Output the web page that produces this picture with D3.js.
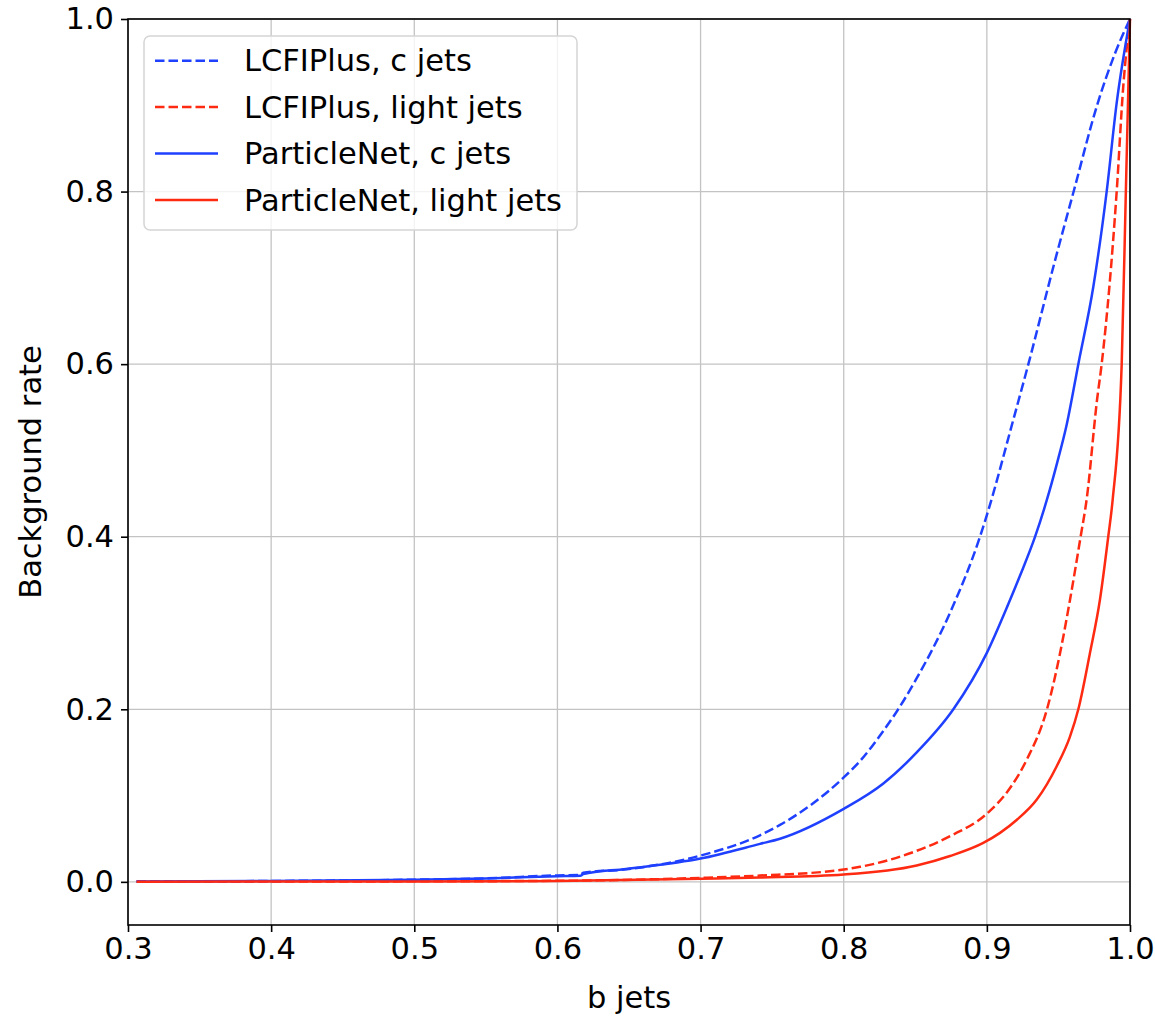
<!DOCTYPE html>
<html>
<head>
<meta charset="utf-8">
<script src="https://cdn.jsdelivr.net/npm/d3@7"></script>
<style>
  body { margin: 0; background: #fff; }
  svg { display: block; font-family: "DejaVu Sans", sans-serif; }
</style>
</head>
<body>
<svg id="chart" width="1155" height="1022"></svg>
<script>
// b-jet efficiency vs background rate
const lcfiCX = [0.306, 0.4, 0.5, 0.55, 0.6, 0.616, 0.618, 0.648, 0.7, 0.7415, 0.7555, 0.8, 0.8114, 0.8277, 0.8365, 0.851, 0.8743, 0.8952, 0.9, 0.9185, 0.929, 0.9476, 0.9611, 0.977, 0.9895, 1.0];
const lcfiCY = [0.0005, 0.001, 0.0025, 0.004, 0.0075, 0.008, 0.0105, 0.0145, 0.0305, 0.054, 0.066, 0.121, 0.14, 0.175, 0.196, 0.236, 0.312, 0.4, 0.425, 0.5357, 0.6, 0.72, 0.803, 0.9, 0.96, 1.0];

const lcfiLX = [0.306, 0.5, 0.6, 0.7, 0.7415, 0.8, 0.8114, 0.851, 0.8743, 0.9, 0.9163, 0.928, 0.942, 0.9535, 0.9581, 0.9655, 0.9697, 0.977, 0.9802, 0.9907, 0.9953, 1.0];
const lcfiLY = [0.0003, 0.0006, 0.0012, 0.0046, 0.0073, 0.0143, 0.0174, 0.036, 0.053, 0.079, 0.109, 0.142, 0.2, 0.285, 0.327, 0.4, 0.443, 0.559, 0.6, 0.8, 0.922, 1.0];

const pnCX = [0.306, 0.4, 0.5, 0.55, 0.6, 0.616, 0.618, 0.648, 0.7, 0.7415, 0.7555, 0.8, 0.8277, 0.851, 0.8766, 0.9, 0.915, 0.9232, 0.9337, 0.9418, 0.949, 0.9558, 0.9639, 0.9744, 0.9837, 0.9907, 1.0];
const pnCY = [0.0005, 0.001, 0.0025, 0.004, 0.0065, 0.007, 0.009, 0.015, 0.027, 0.044, 0.05, 0.0846, 0.114, 0.15, 0.2, 0.2654, 0.322, 0.355, 0.4, 0.442, 0.485, 0.53, 0.6, 0.69, 0.8, 0.9027, 1.0];

const pnLX = [0.306, 0.5, 0.6, 0.7, 0.7415, 0.8, 0.851, 0.8743, 0.8975, 0.9092, 0.921, 0.9349, 0.9488, 0.958, 0.9639, 0.972, 0.979, 0.9848, 0.9879, 0.9942, 0.9971, 1.0];
const pnLY = [0.0002, 0.0005, 0.001, 0.0035, 0.005, 0.0085, 0.019, 0.03, 0.0452, 0.0568, 0.072, 0.0954, 0.134, 0.168, 0.2, 0.265, 0.327, 0.4, 0.443, 0.6, 0.8, 1.0];

const seriesNames = ["LCFIPlus, c jets", "LCFIPlus, light jets", "ParticleNet, c jets", "ParticleNet, light jets"];
const xTicks = [0.3, 0.4, 0.5, 0.6, 0.7, 0.8, 0.9, 1.0];
const yTicks = [0.0, 0.2, 0.4, 0.6, 0.8, 1.0];

const BLUE = "#2040ff";
const RED = "#ff2a12";
const FONT = 30.5;

const series = [
    { name: seriesNames[0], xs: lcfiCX, ys: lcfiCY, color: BLUE, dash: "9.5,4" },
    { name: seriesNames[1], xs: lcfiLX, ys: lcfiLY, color: RED, dash: "9.5,4" },
    { name: seriesNames[2], xs: pnCX, ys: pnCY, color: BLUE, dash: null },
    { name: seriesNames[3], xs: pnLX, ys: pnLY, color: RED, dash: null }
];

const margin = { left: 128, right: 25, top: 19, bottom: 97 };
const width = 1155, height = 1022;

const svg = d3.select("#chart");

const x = d3.scaleLinear().domain([0.3, 1.0]).range([margin.left, width - margin.right]);
const y = d3.scaleLinear().domain([-0.05, 1.0]).range([height - margin.bottom, margin.top]);

// grid
const grid = svg.append("g").attr("stroke", "#b0b0b0").attr("stroke-width", 1.3).attr("opacity", 0.75);
xTicks.forEach(t => {
    grid.append("line").attr("x1", x(t)).attr("x2", x(t)).attr("y1", y.range()[0]).attr("y2", y.range()[1]);
});
yTicks.forEach(t => {
    grid.append("line").attr("x1", x.range()[0]).attr("x2", x.range()[1]).attr("y1", y(t)).attr("y2", y(t));
});

// curves
const line = d3.line().x(d => x(d[0])).y(d => y(d[1])).curve(d3.curveMonotoneX);
const plot = svg.append("g");
series.forEach(s => {
    const pts = s.xs.map((v, i) => [v, s.ys[i]]);
    plot.append("path")
        .datum(pts)
        .attr("d", line)
        .attr("fill", "none")
        .attr("stroke", s.color)
        .attr("stroke-width", 2.5)
        .attr("stroke-dasharray", s.dash)
        .attr("stroke-linejoin", "round");
});

// axes
const xAxis = svg.append("g")
    .attr("transform", `translate(0,${y.range()[0]})`)
    .call(d3.axisBottom(x).tickValues(xTicks).tickFormat(d3.format(".1f")).tickSize(7).tickPadding(5));
const yAxis = svg.append("g")
    .attr("transform", `translate(${x.range()[0]},0)`)
    .call(d3.axisLeft(y).tickValues(yTicks).tickFormat(d3.format(".1f")).tickSize(7).tickPadding(7));

[xAxis, yAxis].forEach(a => {
    a.select(".domain").remove();
    a.selectAll(".tick line").attr("stroke", "#000").attr("stroke-width", 1.6);
    a.selectAll(".tick text").attr("font-size", FONT).attr("fill", "#000").attr("font-family", "DejaVu Sans");
});

// spines
svg.append("rect")
    .attr("x", x.range()[0]).attr("y", y.range()[1])
    .attr("width", x.range()[1] - x.range()[0])
    .attr("height", y.range()[0] - y.range()[1])
    .attr("fill", "none").attr("stroke", "#000").attr("stroke-width", 1.6);

// axis labels
svg.append("text")
    .attr("x", (x.range()[0] + x.range()[1]) / 2)
    .attr("y", 1008)
    .attr("text-anchor", "middle")
    .attr("font-size", FONT)
    .text("b jets");

svg.append("text")
    .attr("transform", `translate(41,${(y.range()[0] + y.range()[1]) / 2}) rotate(-90)`)
    .attr("text-anchor", "middle")
    .attr("font-size", FONT)
    .text("Background rate");

// legend
const legend = svg.append("g");
legend.append("rect")
    .attr("x", 144).attr("y", 36)
    .attr("width", 433).attr("height", 194)
    .attr("rx", 6)
    .attr("fill", "#fff").attr("fill-opacity", 0.8)
    .attr("stroke", "#d5d5d5").attr("stroke-width", 1.5);

series.forEach((s, i) => {
    const cy = 60.7 + i * 46.4;
    legend.append("line")
        .attr("x1", 155).attr("x2", 218)
        .attr("y1", cy).attr("y2", cy)
        .attr("stroke", s.color)
        .attr("stroke-width", 2.5)
        .attr("stroke-dasharray", s.dash);
    legend.append("text")
        .attr("x", 244).attr("y", cy)
        .attr("dy", "0.35em")
        .attr("font-size", FONT)
        .text(s.name);
});
</script>
</body>
</html>
